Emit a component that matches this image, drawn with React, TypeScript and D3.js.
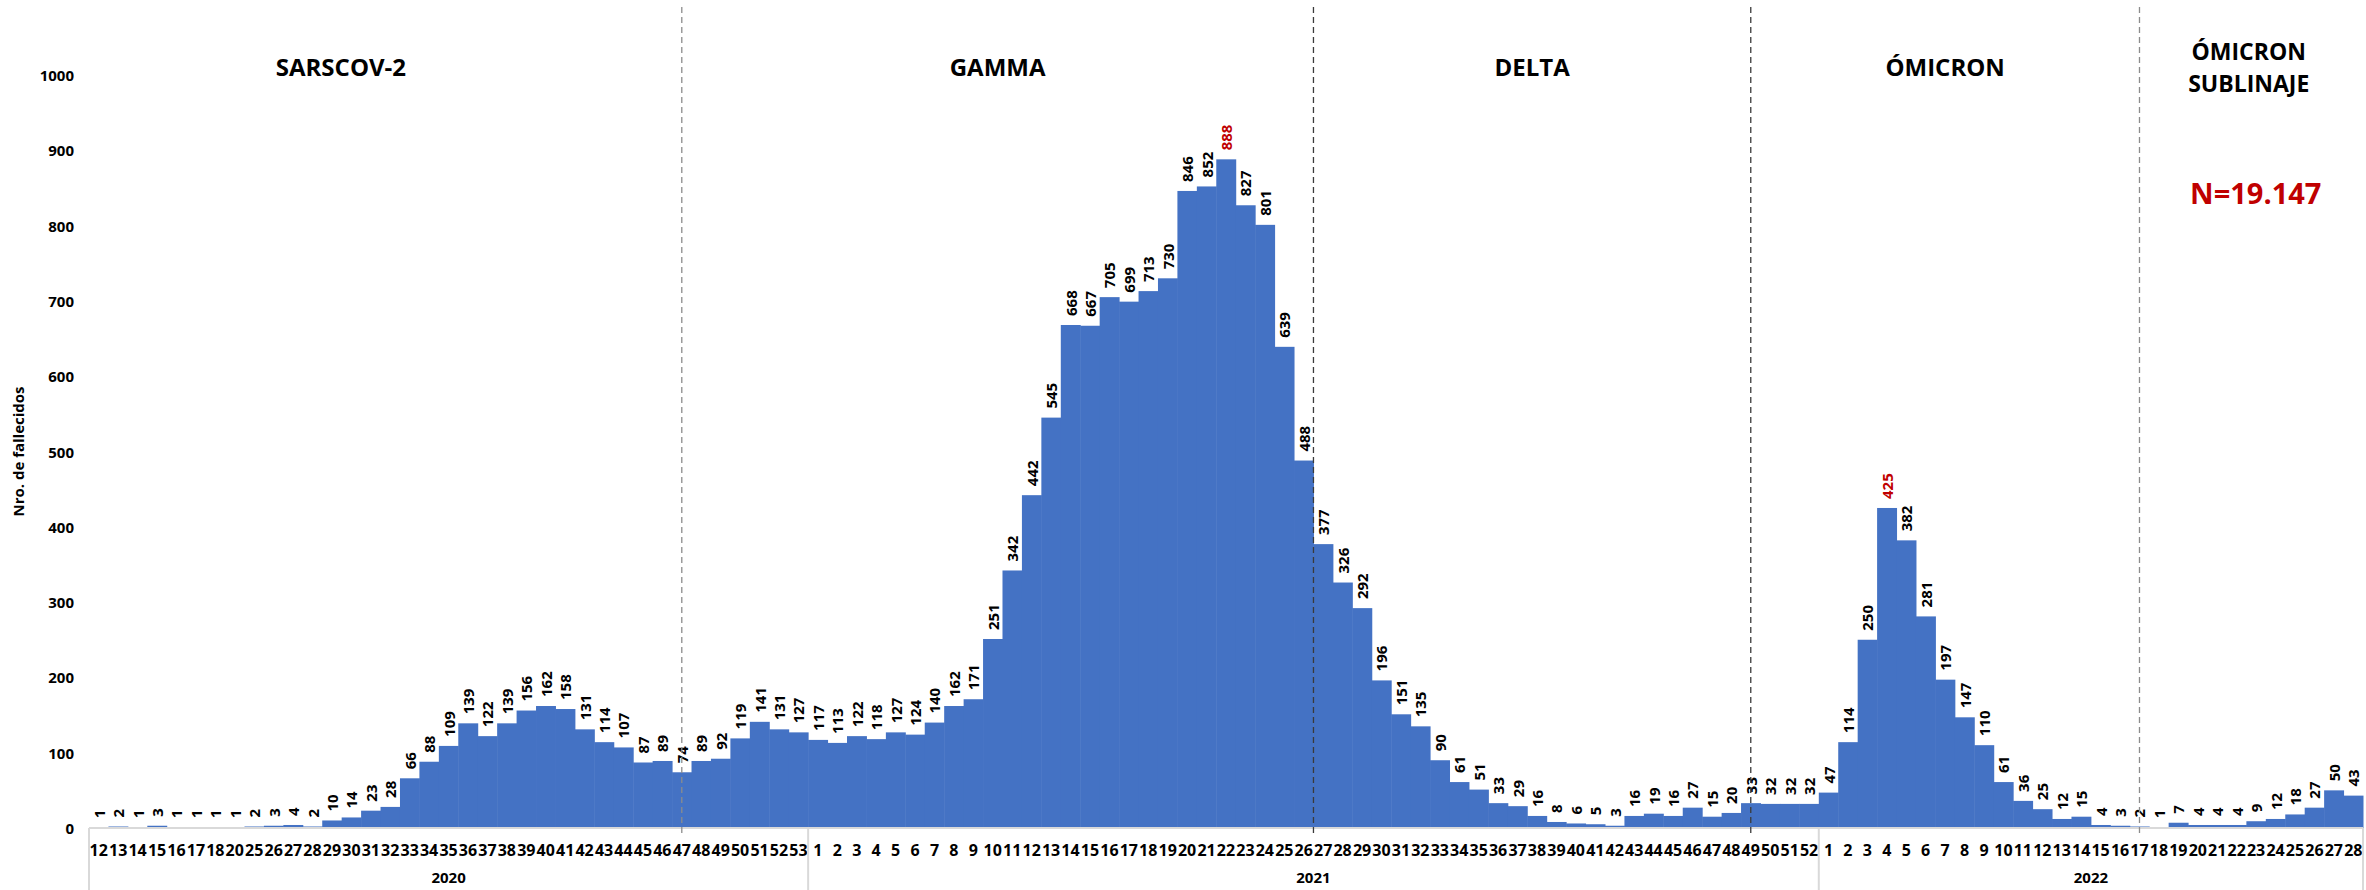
import * as d3 from "d3";
import { useEffect, useRef } from "react";

// Semanas epidemiológicas por año
const years: string[] = ["2020", "2021", "2022"];
const weeks2020: number[] = [12, 13, 14, 15, 16, 17, 18, 20, 25, 26, 27, 28, 29, 30, 31, 32, 33, 34, 35, 36, 37, 38, 39, 40, 41, 42, 43, 44, 45, 46, 47, 48, 49, 50, 51, 52, 53];
const weeks2021: number[] = [1, 2, 3, 4, 5, 6, 7, 8, 9, 10, 11, 12, 13, 14, 15, 16, 17, 18, 19, 20, 21, 22, 23, 24, 25, 26, 27, 28, 29, 30, 31, 32, 33, 34, 35, 36, 37, 38, 39, 40, 41, 42, 43, 44, 45, 46, 47, 48, 49, 50, 51, 52];
const weeks2022: number[] = [1, 2, 3, 4, 5, 6, 7, 8, 9, 10, 11, 12, 13, 14, 15, 16, 17, 18, 19, 20, 21, 22, 23, 24, 25, 26, 27, 28];

// Nro. de fallecidos por semana
const deaths2020: number[] = [1, 2, 1, 3, 1, 1, 1, 1, 2, 3, 4, 2, 10, 14, 23, 28, 66, 88, 109, 139, 122, 139, 156, 162, 158, 131, 114, 107, 87, 89, 74, 89, 92, 119, 141, 131, 127];
const deaths2021: number[] = [117, 113, 122, 118, 127, 124, 140, 162, 171, 251, 342, 442, 545, 668, 667, 705, 699, 713, 730, 846, 852, 888, 827, 801, 639, 488, 377, 326, 292, 196, 151, 135, 90, 61, 51, 33, 29, 16, 8, 6, 5, 3, 16, 19, 16, 27, 15, 20, 33, 32, 32, 32];
const deaths2022: number[] = [47, 114, 250, 425, 382, 281, 197, 147, 110, 61, 36, 25, 12, 15, 4, 3, 2, 1, 7, 4, 4, 4, 9, 12, 18, 27, 50, 43];

// Picos resaltados en rojo
const highlighted: string[] = ["2021-22", "2022-4"];

// Periodos (variantes) y sus cortes
const phaseNames: string[][] = [["SARSCOV-2"], ["GAMMA"], ["DELTA"], ["ÓMICRON"], ["ÓMICRON", "SUBLINAJE"]];
const phaseBreaks: { key: string; at: "mid" | "start" }[] = [
  { key: "2020-47", at: "mid" },
  { key: "2021-27", at: "start" },
  { key: "2021-49", at: "mid" },
  { key: "2022-17", at: "mid" },
];
const totalLabel = "N=19.147";
const yTicks: number[] = [0, 100, 200, 300, 400, 500, 600, 700, 800, 900, 1000];

interface Row {
  key: string;
  year: string;
  week: number;
  value: number;
}

const rows: Row[] = [
  ...weeks2020.map((w, i) => ({ key: `2020-${w}`, year: "2020", week: w, value: deaths2020[i] })),
  ...weeks2021.map((w, i) => ({ key: `2021-${w}`, year: "2021", week: w, value: deaths2021[i] })),
  ...weeks2022.map((w, i) => ({ key: `2022-${w}`, year: "2022", week: w, value: deaths2022[i] })),
];

export default function App() {
  const width = 2366;
  const height = 890;
  const marginLeft = 89;
  const marginRight = 3;
  const marginTop = 75;
  const marginBottom = 62;
  const font = "'Open Sans', 'Noto Sans', sans-serif";
  const breakColors = ["#8c8c8c", "#3a3a3a", "#3a3a3a", "#8c8c8c"];
  const svgRef = useRef<SVGSVGElement>(null);

  useEffect(() => {
    const svg = d3.select(svgRef.current);
    svg.selectAll("*").remove();

    const x = d3
      .scaleBand<string>()
      .domain(rows.map((d) => d.key))
      .range([marginLeft, width - marginRight])
      .padding(0);

    const y = d3
      .scaleLinear()
      .domain([0, 1000])
      .range([height - marginBottom, marginTop]);

    const base = y(0);

    // Barras
    svg
      .append("g")
      .attr("fill", "#4472C4")
      .selectAll("rect")
      .data(rows)
      .enter()
      .append("rect")
      .attr("x", (d) => x(d.key)!)
      .attr("width", x.bandwidth() + 0.5)
      .attr("y", (d) => y(d.value))
      .attr("height", (d) => base - y(d.value));

    // Etiquetas de datos (verticales)
    svg
      .append("g")
      .attr("font-family", font)
      .attr("font-weight", 700)
      .attr("font-size", 15)
      .selectAll("text")
      .data(rows)
      .enter()
      .append("text")
      .attr("transform", (d) => `translate(${x(d.key)! + x.bandwidth() / 2},${y(d.value) - 9}) rotate(-90)`)
      .attr("dominant-baseline", "central")
      .attr("fill", (d) => (highlighted.includes(d.key) ? "#C00000" : "#000"))
      .text((d) => d.value);

    // Eje Y (solo etiquetas)
    svg
      .append("g")
      .attr("font-family", font)
      .attr("font-weight", 700)
      .attr("font-size", 15)
      .attr("text-anchor", "end")
      .selectAll("text")
      .data(yTicks)
      .enter()
      .append("text")
      .attr("x", 74)
      .attr("y", (d) => y(d))
      .attr("dominant-baseline", "central")
      .text((d) => d);

    svg
      .append("text")
      .attr("transform", `translate(18,${(y(0) + y(1000)) / 2}) rotate(-90)`)
      .attr("text-anchor", "middle")
      .attr("dominant-baseline", "central")
      .attr("font-family", font)
      .attr("font-weight", 700)
      .attr("font-size", 15)
      .text("Nro. de fallecidos");

    // Eje X: línea base, semanas, años
    const axisColor = "#D9D9D9";
    svg
      .append("line")
      .attr("x1", marginLeft)
      .attr("x2", width - marginRight)
      .attr("y1", base)
      .attr("y2", base)
      .attr("stroke", axisColor)
      .attr("stroke-width", 2);

    svg
      .append("g")
      .attr("font-family", font)
      .attr("font-weight", 700)
      .attr("font-size", 16)
      .attr("text-anchor", "middle")
      .selectAll("text")
      .data(rows)
      .enter()
      .append("text")
      .attr("x", (d) => x(d.key)! + x.bandwidth() / 2)
      .attr("y", base + 22)
      .attr("dominant-baseline", "central")
      .text((d) => d.week);

    const yearSpans = years.map((yr) => {
      const keys = rows.filter((r) => r.year === yr).map((r) => r.key);
      const x0 = x(keys[0])!;
      const x1 = x(keys[keys.length - 1])! + x.bandwidth();
      return { yr, x0, x1 };
    });

    const edges = [...yearSpans.map((s) => s.x0), width - marginRight];
    svg
      .append("g")
      .selectAll("line")
      .data(edges)
      .enter()
      .append("line")
      .attr("x1", (d) => d)
      .attr("x2", (d) => d)
      .attr("y1", base)
      .attr("y2", height)
      .attr("stroke", axisColor)
      .attr("stroke-width", 2);

    svg
      .append("g")
      .attr("font-family", font)
      .attr("font-weight", 700)
      .attr("font-size", 15)
      .attr("text-anchor", "middle")
      .selectAll("text")
      .data(yearSpans)
      .enter()
      .append("text")
      .attr("x", (d) => (d.x0 + d.x1) / 2)
      .attr("y", height - 13)
      .attr("dominant-baseline", "central")
      .text((d) => d.yr);

    // Cortes de periodo (líneas discontinuas)
    const breakX = phaseBreaks.map((b) => x(b.key)! + (b.at === "mid" ? x.bandwidth() / 2 : 0));
    svg
      .append("g")
      .selectAll("line")
      .data(breakX)
      .enter()
      .append("line")
      .attr("x1", (d) => d)
      .attr("x2", (d) => d)
      .attr("y1", 7)
      .attr("y2", base + 7)
      .attr("stroke", (_d, i) => breakColors[i])
      .attr("stroke-width", 1.3)
      .attr("stroke-dasharray", "6,4");

    // Títulos de periodo
    const regionEdges = [0, ...breakX, width];
    const titles = svg
      .append("g")
      .attr("font-family", font)
      .attr("font-weight", 700)
      .attr("text-anchor", "middle");

    phaseNames.forEach((lines, i) => {
      const cx = (regionEdges[i] + regionEdges[i + 1]) / 2;
      const multi = lines.length > 1;
      lines.forEach((ln, j) => {
        titles
          .append("text")
          .attr("x", cx - (multi ? 4 : 0))
          .attr("y", multi ? 51 + j * 32 : 66)
          .attr("font-size", multi ? 23 : 24)
          .attr("dominant-baseline", "central")
          .text(ln);
      });
    });

    svg
      .append("text")
      .attr("x", (regionEdges[4] + regionEdges[5]) / 2 + 3)
      .attr("y", 192)
      .attr("text-anchor", "middle")
      .attr("dominant-baseline", "central")
      .attr("font-family", font)
      .attr("font-weight", 700)
      .attr("font-size", 29)
      .attr("fill", "#C00000")
      .text(totalLabel);
  }, []);

  return (
    <svg
      ref={svgRef}
      width={width}
      height={height}
      style={{ position: "absolute", left: 0, top: 0, display: "block", background: "#fff" }}
    />
  );
}
